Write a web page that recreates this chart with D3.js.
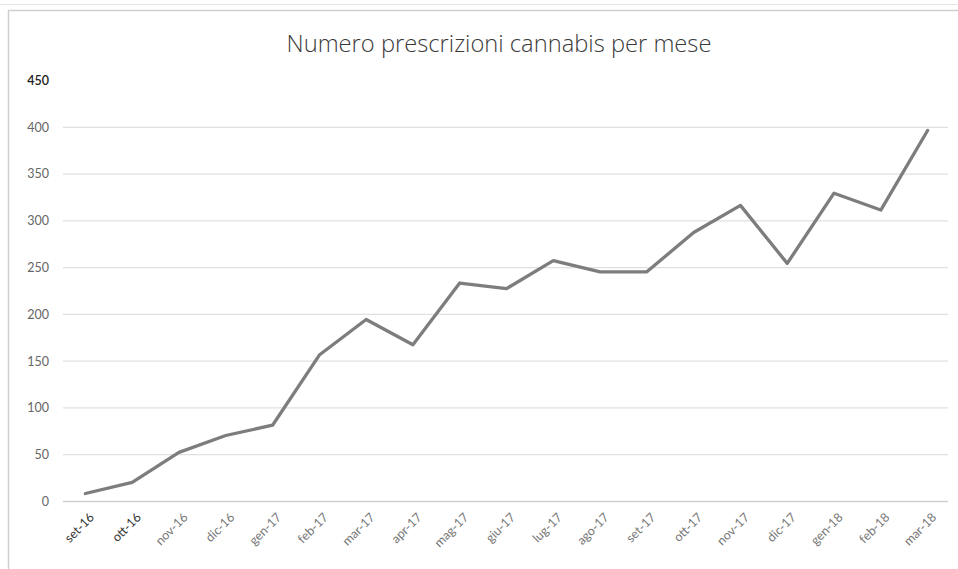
<!DOCTYPE html>
<html>
<head>
<meta charset="utf-8">
<script src="https://cdn.jsdelivr.net/npm/d3@7/dist/d3.min.js"></script>
<style>
  html, body { margin: 0; padding: 0; background: #fff; }
  svg { display: block; }
</style>
</head>
<body>
<svg id="chart" width="958" height="569"></svg>
<script>
const categories = ["set-16","ott-16","nov-16","dic-16","gen-17","feb-17","mar-17","apr-17","mag-17","giu-17","lug-17","ago-17","set-17","ott-17","nov-17","dic-17","gen-18","feb-18","mar-18"];
const values = [8, 20, 52, 70, 81, 156, 194, 167, 233, 227, 257, 245, 245, 287, 316, 254, 329, 311, 396];
const yTicks = [0, 50, 100, 150, 200, 250, 300, 350, 400, 450];
const title = "Numero prescrizioni cannabis per mese";

const svg = d3.select("#chart");
const W = 958, H = 569;
const plot = { left: 62, right: 951, top: 80, bottom: 501 };

// chart frame (scanned border)
svg.append("line").attr("x1", 0).attr("x2", W).attr("y1", 4.5).attr("y2", 4.5)
  .attr("stroke", "#e4e4e4").attr("stroke-width", 1);
svg.append("line").attr("x1", 8).attr("x2", W).attr("y1", 10.5).attr("y2", 10.5)
  .attr("stroke", "#cfcfcf").attr("stroke-width", 1.5);
svg.append("line").attr("x1", 8.5).attr("x2", 8.5).attr("y1", 10).attr("y2", H)
  .attr("stroke", "#cfcfcf").attr("stroke-width", 1.5);

const x = d3.scalePoint().domain(categories).range([plot.left, plot.right]).padding(0.5);
const y = d3.scaleLinear().domain([0, 450]).range([plot.bottom, plot.top]);

// gridlines + y labels
const yAxis = d3.axisLeft(y).tickValues(yTicks).tickSize(0).tickPadding(0);
const gy = svg.append("g").attr("transform", `translate(${plot.left},0)`).call(yAxis);
gy.select(".domain").remove();
gy.selectAll(".tick line").remove();
gy.selectAll(".tick").filter(d => d < 450).append("line")
  .attr("x1", 1).attr("x2", plot.right - plot.left - 3)
  .attr("stroke", d => d === 0 ? "#d0d0d0" : "#e0e0e0").attr("stroke-width", 1.3);
gy.selectAll(".tick text")
  .attr("x", -13).attr("dy", "0.35em")
  .attr("fill", d => d === 450 ? "#222" : "#666")
  .style("font-family", "Lato, 'Open Sans', sans-serif")
  .style("font-size", "12.5px")
  .style("font-weight", d => d === 450 ? "600" : "400");

// x axis labels, rotated -45 degrees
const xAxis = d3.axisBottom(x).tickSize(0).tickPadding(0);
const gx = svg.append("g").attr("transform", `translate(0,${plot.bottom})`).call(xAxis);
gx.select(".domain").remove();
gx.selectAll(".tick text")
  .attr("x", 0).attr("y", 0).attr("dy", "0.35em")
  .attr("text-anchor", "end")
  .attr("transform", "translate(6,14) rotate(-45)")
  .attr("fill", (d, i) => i < 2 ? "#333" : "#777")
  .style("font-family", "Lato, 'Open Sans', sans-serif")
  .style("font-size", "12.5px");

// line
const line = d3.line()
  .x((d, i) => x(categories[i]))
  .y(d => y(d));
svg.append("path")
  .datum(values)
  .attr("fill", "none")
  .attr("stroke", "#7d7d7d")
  .attr("stroke-width", 3.3)
  .attr("stroke-linejoin", "round")
  .attr("stroke-linecap", "round")
  .attr("d", line);

// title
const t = svg.append("text")
  .attr("x", 499).attr("y", 52)
  .attr("text-anchor", "middle")
  .attr("fill", "#3a3a3a")
  .style("font-family", "'Open Sans', Lato, sans-serif")
  .style("font-size", "19px")
  .style("font-weight", "300")
  .text(title);
const tl = t.node().getComputedTextLength();
if (tl > 0) t.style("font-size", (19 * 425 / tl).toFixed(2) + "px");
</script>
</body>
</html>
